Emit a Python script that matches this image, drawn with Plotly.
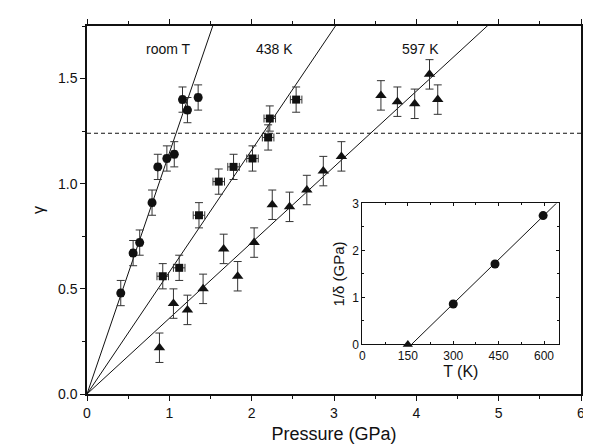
import plotly.graph_objects as go

# ---------------- data ----------------
roomT_p = [0.41, 0.56, 0.64, 0.79, 0.86, 0.97, 1.06, 1.16, 1.22, 1.35]
roomT_g = [0.48, 0.67, 0.72, 0.91, 1.08, 1.12, 1.14, 1.40, 1.35, 1.41]
roomT_ey = [0.06] * len(roomT_p)
roomT_ex = [0.03] * len(roomT_p)

k438_p = [0.92, 1.12, 1.36, 1.60, 1.78, 2.01, 2.20, 2.22, 2.54]
k438_g = [0.56, 0.60, 0.85, 1.01, 1.08, 1.12, 1.22, 1.31, 1.40]
k438_ey = [0.06] * len(k438_p)
k438_ex = [0.07] * len(k438_p)

k597_p = [0.88, 1.05, 1.22, 1.41, 1.66, 1.83, 2.03, 2.25, 2.46, 2.67, 2.87, 3.09,
          3.57, 3.77, 3.98, 4.16, 4.26]
k597_g = [0.22, 0.43, 0.40, 0.50, 0.69, 0.56, 0.72, 0.90, 0.89, 0.97, 1.06, 1.13,
          1.42, 1.39, 1.38, 1.52, 1.40]
k597_ey = [0.07] * len(k597_p)

fit_slopes = {"room T": 1.146, "438 K": 0.58, "597 K": 0.36}
dashed_level = 1.24

inset_T = [300, 438, 597]
inset_inv_delta = [0.86, 1.71, 2.74]
inset_tri_T = [150]
inset_tri_v = [0.0]
inset_fit_T0 = 162
inset_fit_slope = 0.00627
inset_fit_Tend = 650

labels = [("room T", 0.99), ("438 K", 2.28), ("597 K", 4.05)]

# ---------------- figure ----------------
fig = go.Figure()
ink = "#111111"
err_col = "#333333"

# fit lines
for name, s in fit_slopes.items():
    fig.add_trace(go.Scatter(x=[0, 6], y=[0, 6 * s], mode="lines",
                             line=dict(color=ink, width=1), showlegend=False,
                             hoverinfo="skip"))

fig.add_trace(go.Scatter(x=[0, 6], y=[dashed_level, dashed_level], mode="lines",
                         line=dict(color=ink, width=1, dash="4px,3px"),
                         showlegend=False, hoverinfo="skip"))

def errstyle(arr):
    return dict(type="data", array=arr, color=err_col, thickness=1, width=4)

fig.add_trace(go.Scatter(x=roomT_p, y=roomT_g, mode="markers",
                         marker=dict(symbol="circle", size=9, color=ink),
                         error_y=errstyle(roomT_ey), error_x=errstyle(roomT_ex),
                         showlegend=False))
fig.add_trace(go.Scatter(x=k438_p, y=k438_g, mode="markers",
                         marker=dict(symbol="square", size=8, color=ink),
                         error_y=errstyle(k438_ey), error_x=errstyle(k438_ex),
                         showlegend=False))
fig.add_trace(go.Scatter(x=k597_p, y=k597_g, mode="markers",
                         marker=dict(symbol="triangle-up", size=10, color=ink),
                         error_y=errstyle(k597_ey),
                         showlegend=False))

# inset
fig.add_trace(go.Scatter(x=[inset_fit_T0, inset_fit_Tend],
                         y=[0, (inset_fit_Tend - inset_fit_T0) * inset_fit_slope],
                         mode="lines", line=dict(color=ink, width=1),
                         xaxis="x2", yaxis="y2", showlegend=False, hoverinfo="skip"))
fig.add_trace(go.Scatter(x=inset_T, y=inset_inv_delta, mode="markers",
                         marker=dict(symbol="circle", size=9, color=ink),
                         xaxis="x2", yaxis="y2", showlegend=False))
fig.add_trace(go.Scatter(x=inset_tri_T, y=inset_tri_v, mode="markers",
                         marker=dict(symbol="triangle-up", size=9, color=ink),
                         xaxis="x2", yaxis="y2", showlegend=False, cliponaxis=False))

font = "Liberation Sans, Arial, sans-serif"

for text, xp in labels:
    fig.add_annotation(x=xp, y=1.64, xref="x", yref="y", text=text,
                       showarrow=False, font=dict(size=14, color=ink, family=font))

axis_common = dict(showline=True, linecolor=ink, linewidth=1.5, mirror="allticks",
                   ticks="outside", ticklen=5, tickwidth=1, tickcolor=ink,
                   showgrid=False, zeroline=False,
                   tickfont=dict(size=14, color=ink, family=font))

fig.update_layout(
    width=591, height=444,
    margin=dict(l=79, r=14, t=11, b=58),
    plot_bgcolor="white", paper_bgcolor="white",
    font=dict(family=font, color=ink),
    xaxis=dict(range=[0, 6], dtick=1, domain=[0, 1],
               minor=dict(dtick=0.5, ticks="outside", ticklen=3, tickcolor=ink),
               title=dict(text="Pressure (GPa)", font=dict(size=18, color=ink, family=font),
                          standoff=8),
               **axis_common),
    yaxis=dict(range=[0, 1.75], dtick=0.5, tickformat=".1f", domain=[0, 1],
               minor=dict(dtick=0.25, ticks="outside", ticklen=3, tickcolor=ink),
               title=dict(text="γ", font=dict(size=16, color=ink, family=font),
                          standoff=9),
               **axis_common),
    xaxis2=dict(range=[0, 650], tickvals=[0, 150, 300, 450, 600], anchor="y2",
                domain=[0.5576, 0.9558],
                showline=True, linecolor=ink, linewidth=1, mirror="allticks",
                ticks="inside", ticklen=3, tickcolor=ink,
                minor=dict(dtick=75, tick0=0, ticks="inside", ticklen=2, tickcolor=ink),
                showgrid=False, zeroline=False,
                tickfont=dict(size=12, color=ink, family=font),
                title=dict(text="T (K)", font=dict(size=16, color=ink, family=font),
                           standoff=1)),
    yaxis2=dict(range=[0, 3], dtick=1, anchor="x2", domain=[0.1347, 0.518],
                showline=True, linecolor=ink, linewidth=1, mirror="allticks",
                ticks="inside", ticklen=3, tickcolor=ink,
                minor=dict(dtick=0.5, ticks="inside", ticklen=2, tickcolor=ink),
                showgrid=False, zeroline=False,
                tickfont=dict(size=12, color=ink, family=font),
                title=dict(text="1/δ (GPa)", font=dict(size=15, color=ink, family=font),
                           standoff=4)),
)

fig.write_html("out.html")
